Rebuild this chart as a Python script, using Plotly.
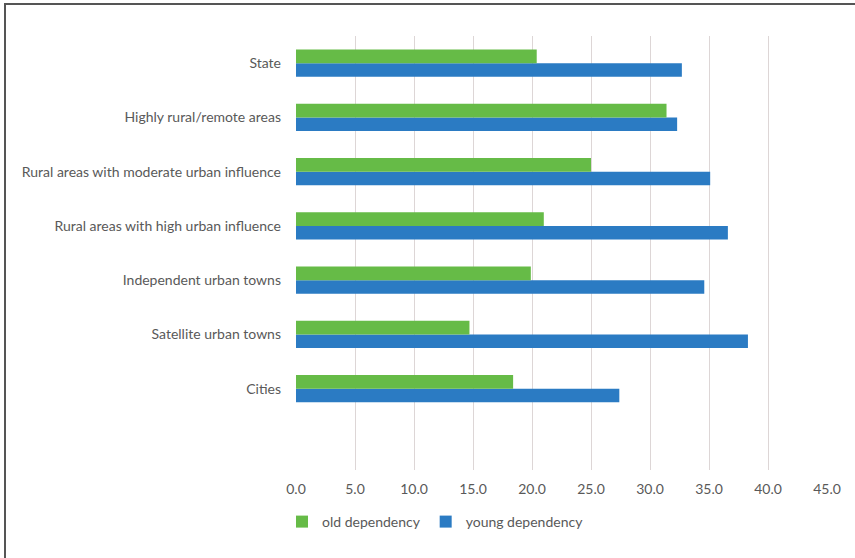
import plotly.graph_objects as go

categories = [
    "State",
    "Highly rural/remote areas",
    "Rural areas with moderate urban influence",
    "Rural areas with high urban influence",
    "Independent urban towns",
    "Satellite urban towns",
    "Cities",
]
old_dependency = [20.4, 31.4, 25.0, 21.0, 19.9, 14.7, 18.4]
young_dependency = [32.7, 32.3, 35.1, 36.6, 34.6, 38.3, 27.4]
x_ticks = [0, 5, 10, 15, 20, 25, 30, 35, 40, 45]

GREEN = "#66bb47"
BLUE = "#2b7bc3"
TEXT = "#595959"
FONT = "Lato"
FS = 14

W, H = 855, 558
L, R, T, B = 296, 28, 36, 88

fig = go.Figure()
fig.add_trace(go.Bar(
    y=categories, x=young_dependency, orientation="h", name="young dependency",
    marker=dict(color=BLUE, line=dict(width=0)), legendrank=2,
))
fig.add_trace(go.Bar(
    y=categories, x=old_dependency, orientation="h", name="old dependency",
    marker=dict(color=GREEN, line=dict(width=0)), legendrank=1,
))

cat_order = [" "] + categories[::-1]

pw = W - L - R
ph = H - T - B
def px_x(x):
    return (x - L) / pw
def px_y(y):
    return (H - B - y) / ph

fig.update_layout(
    width=W, height=H,
    margin=dict(l=L, r=R, t=T, b=B, pad=0),
    paper_bgcolor="white", plot_bgcolor="white",
    barmode="group", bargap=0.5, bargroupgap=0,
    font=dict(family=FONT, size=FS, color=TEXT),
    showlegend=True,
    legend=dict(
        orientation="h", x=px_x(282), xanchor="left", y=px_y(522), yanchor="middle",
        font=dict(family=FONT, size=FS, color=TEXT), itemwidth=30,
        bgcolor="rgba(0,0,0,0)", tracegroupgap=0,
    ),
    xaxis=dict(
        range=[0, 45], tickvals=x_ticks, tickformat=".1f",
        showgrid=True, gridcolor="#ddd6d6", gridwidth=1.3,
        zeroline=False, showline=False, ticks="",
        ticklabelstandoff=9,
        tickfont=dict(family=FONT, size=FS, color=TEXT),
        fixedrange=True,
    ),
    yaxis=dict(
        type="category", categoryorder="array", categoryarray=cat_order,
        range=[-0.5, 7.5], showgrid=False, zeroline=False, showline=False,
        ticks="", ticklabelstandoff=14,
        tickfont=dict(family=FONT, size=FS, color=TEXT),
        fixedrange=True,
    ),
    shapes=[
        dict(type="line", xref="paper", yref="paper",
             x0=px_x(5), x1=px_x(5), y0=px_y(3), y1=px_y(560),
             line=dict(color="#555555", width=2)),
        dict(type="line", xref="paper", yref="paper",
             x0=px_x(5), x1=px_x(856), y0=px_y(4), y1=px_y(4),
             line=dict(color="#555555", width=2)),
    ],
)

fig.write_html(
    "out.html",
    config={"displayModeBar": False},
    post_script="document.body.style.margin='0';document.body.style.overflow='hidden';",
)
